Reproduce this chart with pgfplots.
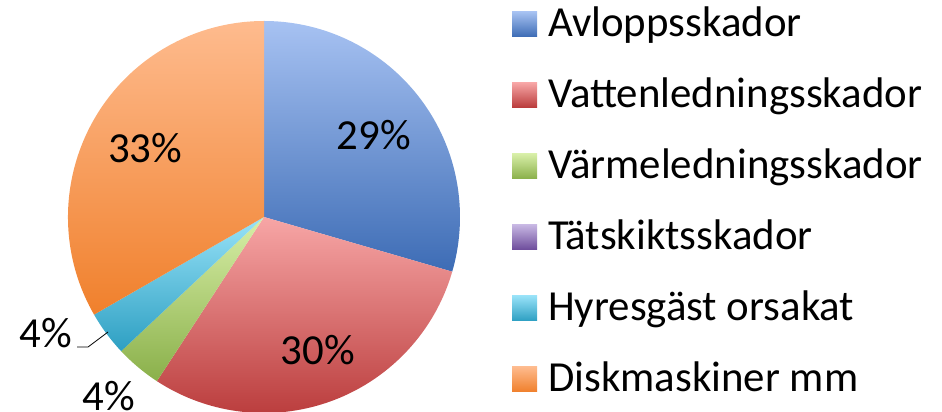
\documentclass[border=0pt]{standalone}
\usepackage{pgfplots}
\pgfplotsset{compat=1.18}
\usepackage{pgfplotstable}
\usepackage{fontspec}
\setmainfont{Carlito}

% gradient colours, light top / dark bottom
\definecolor{avlT}{HTML}{A7C2F2}\definecolor{avlB}{HTML}{3D6CB5}
\definecolor{vatT}{HTML}{F7A6A6}\definecolor{vatB}{HTML}{B93A3A}
\definecolor{varT}{HTML}{D8EFA8}\definecolor{varB}{HTML}{8AB04A}
\definecolor{tatT}{HTML}{C7B7E3}\definecolor{tatB}{HTML}{6D4C9B}
\definecolor{hyrT}{HTML}{98E2F8}\definecolor{hyrB}{HTML}{2D9FC2}
\definecolor{disT}{HTML}{FEBB8E}\definecolor{disB}{HTML}{F0802C}

% share in percent, printed label, label radius factor and angle offset
\pgfplotstableread[col sep=comma]{
name,value,label,lr,la,top,bot
Avloppsskador,29.5,29,0.70,0,avlT,avlB
Vattenledningsskador,29.7,30,0.73,1.7,vatT,vatB
Värmeledningsskador,3.8,4,1.21,-1,varT,varB
Tätskiktsskador,0,0,1,0,tatT,tatB
Hyresgäst orsakat,3.7,4,1.26,-8.6,hyrT,hyrB
Diskmaskiner mm,33.3,33,0.70,0,disT,disB
}\piedata
\pgfplotstablecreatecol[create col/expr accum={\pgfmathaccuma + \thisrow{value}}{0}]{acc}\piedata
\pgfplotstablegetrowsof{\piedata}
\pgfmathtruncatemacro\lastrow{\pgfplotsretval-1}

\newcommand\bigfont{\fontsize{43}{51}\selectfont}

\begin{document}
\begin{tikzpicture}
\useasboundingbox (0,0) rectangle (942bp,412bp);
\begin{axis}[
    at={(0,0)}, anchor=south west,
    scale only axis,
    width=942bp, height=412bp,
    xmin=0, xmax=942, ymin=0, ymax=412,
    hide axis, clip=false,
    legend image code/.code={\shade[#1, draw=none] (0bp,-12.5bp) rectangle (25bp,12.5bp);},
    legend cell align=left,
    legend style={
        at={(512/942,408.5/412)}, anchor=north west,
        draw=none, fill=none, inner sep=0pt,
        font=\bigfont,
        row sep=30bp, column sep=11bp,
        nodes={inner sep=0pt, text height=33bp, text depth=8bp},
    },
]
\addlegendimage{top color=avlT, bottom color=avlB}\addlegendentry{Avloppsskador}
\addlegendimage{top color=vatT, bottom color=vatB}\addlegendentry{Vattenledningsskador}
\addlegendimage{top color=varT, bottom color=varB}\addlegendentry{Värmeledningsskador}
\addlegendimage{top color=tatT, bottom color=tatB}\addlegendentry{Tätskiktsskador}
\addlegendimage{top color=hyrT, bottom color=hyrB}\addlegendentry{Hyresgäst orsakat}
\addlegendimage{top color=disT, bottom color=disB}\addlegendentry{Diskmaskiner mm}

\pgfplotsextra{
  \foreach \i in {0,...,\lastrow} {
    \pgfplotstablegetelem{\i}{value}\of\piedata \let\v\pgfplotsretval
    \pgfplotstablegetelem{\i}{acc}\of\piedata \let\acc\pgfplotsretval
    \pgfplotstablegetelem{\i}{label}\of\piedata \let\lab\pgfplotsretval
    \pgfplotstablegetelem{\i}{lr}\of\piedata \let\lr\pgfplotsretval
    \pgfplotstablegetelem{\i}{la}\of\piedata \let\la\pgfplotsretval
    \pgfplotstablegetelem{\i}{top}\of\piedata \let\ct\pgfplotsretval
    \pgfplotstablegetelem{\i}{bot}\of\piedata \let\cb\pgfplotsretval
    \pgfmathsetmacro\aa{90-3.6*(\acc-\v)}
    \pgfmathsetmacro\ab{90-3.6*\acc}
    \pgfmathsetmacro\am{(\aa+\ab)/2+\la}
    \ifdim\v pt>0pt
      \shade[top color=\ct, bottom color=\cb]
        (axis cs:264,195) -- ++(\aa:196bp) arc[start angle=\aa, end angle=\ab, radius=196bp] -- cycle;
      \path (axis cs:264,195) ++(\am:{\lr*196bp})
        node[font=\bigfont, inner sep=0pt] {\lab\%};
    \fi
  }
}
% leader line for the small slice
\draw[black, line width=0.8bp] (axis cs:77,65) -- (axis cs:88,65) -- (axis cs:108,80);
\end{axis}
\end{tikzpicture}
\end{document}
